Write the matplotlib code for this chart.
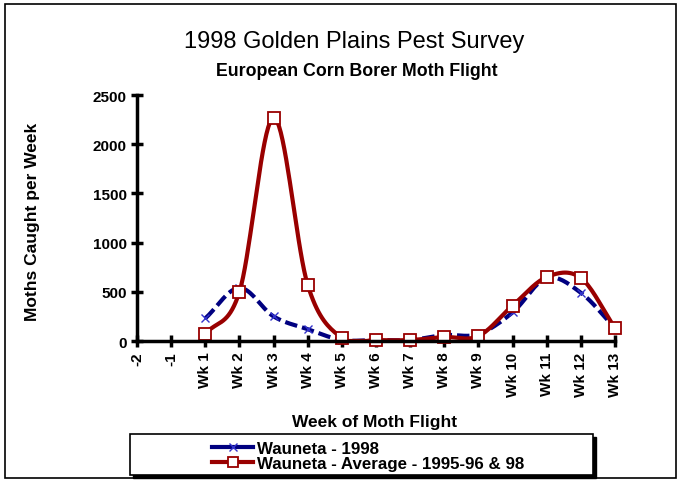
import numpy as np
import matplotlib.pyplot as plt
from matplotlib.patches import Rectangle

# Data (category axis: "-2", "-1", then weeks)
categories = ["-2", "-1"] + [f"Wk {w}" for w in range(1, 14)]
wauneta_1998 = [230, 540, 250, 120, 10, 10, 10, 60, 70, 290, 640, 490, 130]
wauneta_avg = [70, 500, 2270, 570, 30, 10, 10, 40, 50, 360, 650, 640, 130]
weeks = np.arange(2, 15)  # positions of Wk 1 .. Wk 13 on the category axis


def smooth(x, y, n=20):
    # Catmull-Rom style smoothing like the spreadsheet "smoothed line"
    x = np.asarray(x, float)
    y = np.asarray(y, float)
    px = np.concatenate([[2 * x[0] - x[1]], x, [2 * x[-1] - x[-2]]])
    py = np.concatenate([[2 * y[0] - y[1]], y, [2 * y[-1] - y[-2]]])
    xs, ys = [], []
    t = np.linspace(0, 1, n)
    for i in range(1, len(px) - 2):
        cr = lambda a0, a1, a2, a3: 0.5 * ((2 * a1) + (-a0 + a2) * t
                                         + (2 * a0 - 5 * a1 + 4 * a2 - a3) * t ** 2
                                         + (-a0 + 3 * a1 - 3 * a2 + a3) * t ** 3)
        xs.append(cr(px[i - 1], px[i], px[i + 1], px[i + 2]))
        ys.append(cr(py[i - 1], py[i], py[i + 1], py[i + 2]))
    return np.concatenate(xs), np.clip(np.concatenate(ys), 0, None)


narrow = ['Liberation Sans Narrow', 'Liberation Sans', 'DejaVu Sans']
plt.rcParams['font.family'] = ['Liberation Sans', 'DejaVu Sans']

fig = plt.figure(figsize=(6.78, 4.81), dpi=100)
ax = fig.add_axes([137 / 678, 1 - 342 / 481, (615 - 137) / 678, (342 - 96) / 481])

blue = '#000080'
red = '#990000'
sx, sy = smooth(weeks, wauneta_1998)
ax.plot(sx, sy, color=blue, lw=3, ls=(0, (3, 1.2)), solid_capstyle='butt')
ax.plot(weeks, wauneta_1998, ls='none', marker='x', color='#3333cc', ms=6, mew=1)
sx, sy = smooth(weeks, wauneta_avg)
ax.plot(sx, sy, color=red, lw=3)
ax.plot(weeks, wauneta_avg, ls='none', marker='s', mfc='white', mec=red, ms=8, mew=1.3)

ax.set_xlim(0, len(categories) - 1)
ax.set_ylim(0, 2500)
ax.set_xticks(range(len(categories)))
ax.set_xticklabels(categories, rotation=90, fontsize=11, fontweight='bold', family=narrow)
ax.set_yticks(range(0, 2501, 500))
ax.set_yticklabels([str(v) for v in range(0, 2501, 500)], fontsize=11, fontweight='bold', family=narrow)
ax.tick_params(direction='inout', length=9, width=2.5, pad=3)
for s in ['top', 'right']:
    ax.spines[s].set_visible(False)
for s in ['left', 'bottom']:
    ax.spines[s].set_linewidth(2.5)
ax.patch.set_visible(False)
for l in ax.lines:
    l.set_clip_on(False)

fig.text(375 / 678, 1 - 423 / 481, 'Week of Moth Flight', ha='center', va='center',
         fontsize=12.5, fontweight='bold', family=narrow)
fig.text(33 / 678, 1 - 222 / 481, 'Moths Caught per Week', ha='center', va='center',
         rotation=90, fontsize=12.5, fontweight='bold', family=narrow)
fig.text(354 / 678, 1 - 42 / 481, '1998 Golden Plains Pest Survey', ha='center', va='center',
         fontsize=17)
fig.text(357 / 678, 1 - 71 / 481, 'European Corn Borer Moth Flight', ha='center', va='center',
         fontsize=12.8, fontweight='bold', family=narrow)

# outer frame
fig.patches.append(Rectangle((5 / 678, 2 / 481), 671 / 678, 474 / 481, transform=fig.transFigure,
                             fill=False, ec='black', lw=1.2))
# legend box with shadow
fig.patches.append(Rectangle((133 / 678, 1 - 479 / 481), 463 / 678, 41 / 481, transform=fig.transFigure,
                             fc='black', ec='black', zorder=1))
fig.patches.append(Rectangle((130 / 678, 1 - 476 / 481), 463 / 678, 41 / 481, transform=fig.transFigure,
                             fc='white', ec='black', lw=1.2, zorder=2))
h1 = plt.Line2D([], [], color=blue, lw=3, marker='x', mec='#3333cc', ms=6, mew=1)
h2 = plt.Line2D([], [], color=red, lw=3, marker='s', mfc='white', mec=red, ms=7, mew=1.3)
leg = fig.legend([h1, h2], ['Wauneta - 1998', 'Wauneta - Average - 1995-96 & 98'],
                 loc='center left', bbox_to_anchor=(204 / 678, 1 - 457 / 481), frameon=False,
                 prop={'family': narrow, 'weight': 'bold', 'size': 12.2},
                 handlelength=2.4, handletextpad=0.2, labelspacing=-0.05, borderpad=0)
leg.set_zorder(3)

fig.savefig('out.png', dpi=100)
